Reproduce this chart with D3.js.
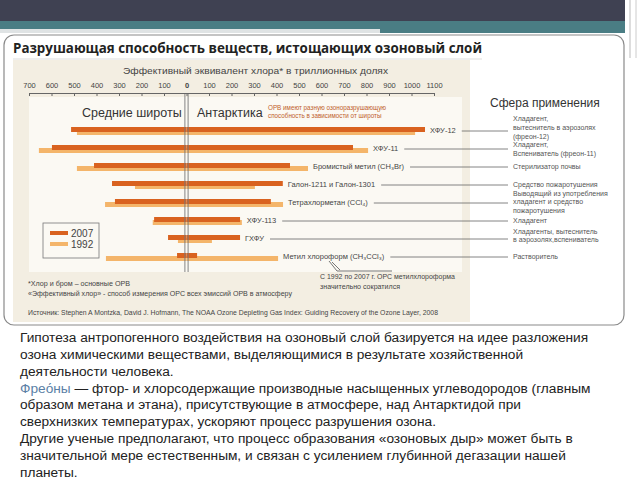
<!DOCTYPE html>
<html>
<head>
<meta charset="utf-8">
<script src="https://cdn.jsdelivr.net/npm/d3@7/dist/d3.min.js"></script>
<style>
  body { margin: 0; background: #fff; }
  svg { display: block; }
</style>
</head>
<body>
<svg id="slide" width="640" height="480"></svg>
<script>
// substances, top to bottom
var substances = ["ХФУ-12", "ХФУ-11", "Бромистый метил (CH₃Br)", "Галон-1211 и Галон-1301",
  "Тетрахлорметан (CCl₄)", "ХФУ-113", "ГХФУ", "Метил хлороформ (CH₃CCl₃)"];
// effective chlorine, trillionths (left = mid latitudes, right = Antarctica)
var mid2007 = [513, 598, 411, 331, 318, 144, 82, 42];
var mid1992 = [487, 656, 487, 229, 362, 150, 38, 358];
var ant2007 = [1060, 740, 460, 428, 375, 238, 238, 47];
var ant1992 = [1016, 807, 540, 304, 429, 246, 113, 407];
var uses = [
  ["Хладагент,", "вытеснитель в аэрозолях", "(фреон-12)"],
  ["Хладагент,", "Вспениватель (фреон-11)"],
  ["Стерилизатор почвы"],
  ["Средство пожаротушения"],
  ["Выводящий из употребления", "хладагент и средство", "пожаротушения"],
  ["Хладагент"],
  ["Хладагенты, вытеснитель", "в аэрозолях,вспениватель"],
  ["Растворитель"]
];
var tickValues = d3.range(-700, 1101, 100);
var years = ["2007", "1992"];
var notes = [
  "*Хлор и бром – основные ОРВ",
  "«Эффективный хлор» - способ измерения ОРС всех эмиссий ОРВ в атмосферу",
  "С 1992 по 2007 г. ОРС метилхлороформа",
  "значительно сократился",
  "Источник: Stephen A Montzka, David J. Hofmann, The NOAA Ozone Depleting Gas Index: Guiding Recovery of the Ozone Layer, 2008"
];
var paragraph = [
  "Гипотеза антропогенного воздействия на озоновый слой базируется на идее разложения",
  "озона химическими веществами, выделяющимися в результате хозяйственной",
  "деятельности человека.",
  "— фтор- и хлорсодержащие производные насыщенных углеводородов (главным",
  "образом метана и этана), присутствующие в атмосфере, над Антарктидой при",
  "сверхнизких температурах, ускоряют процесс разрушения озона.",
  "Другие ученые предполагают, что процесс образования «озоновых дыр» может быть в",
  "значительной мере естественным, и связан с усилением глубинной дегазации нашей",
  "планеты."
];

var dark = "#d9621f", light = "#f4b56a";
var narrow = "'Liberation Sans Narrow', 'Liberation Sans', Arial, sans-serif";
var sans = "'Liberation Sans', Arial, sans-serif";

var svg = d3.select("#slide");

// slide decoration
svg.append("rect").attr("x", 0).attr("y", 0).attr("width", 625).attr("height", 21).attr("fill", "#3f4152");
svg.append("rect").attr("x", 0).attr("y", 21).attr("width", 625).attr("height", 12).attr("fill", "#4a7d84");
svg.append("rect").attr("x", 0).attr("y", 29).attr("width", 380).attr("height", 4).attr("fill", "#dfe3e4");
svg.append("line").attr("x1", 630).attr("x2", 630).attr("y1", 0).attr("y2", 58).attr("stroke", "#bbb");
svg.append("line").attr("x1", 636).attr("x2", 636).attr("y1", 0).attr("y2", 58).attr("stroke", "#ccc");

// rounded panel
svg.append("rect").attr("x", 4).attr("y", 35).attr("width", 620).attr("height", 290).attr("rx", 10)
  .attr("fill", "#fff").attr("stroke", "#8a8a8a").attr("stroke-width", 1.2);

svg.append("text").attr("x", 13).attr("y", 53)
  .style("font-family", "'Open Sans', sans-serif").style("font-weight", "bold").style("font-size", "13.8px")
  .attr("fill", "#222").attr("textLength", 469).attr("lengthAdjust", "spacingAndGlyphs")
  .text("Разрушающая способность веществ, истощающих озоновый слой");
svg.append("line").attr("x1", 13).attr("x2", 482).attr("y1", 59).attr("y2", 59).attr("stroke", "#ddd");

// chart picture backgrounds
svg.append("rect").attr("x", 13).attr("y", 60).attr("width", 457).attr("height", 262).attr("fill", "#f3eee2");
svg.append("rect").attr("x", 29).attr("y", 97).attr("width", 433).attr("height", 175).attr("fill", "#fbf9f3");

var x = d3.scaleLinear().domain([-700, 1100]).range([29, 434]);
var y = d3.scalePoint().domain(substances).range([130, 256]);
var x0 = x(0);

svg.append("text").attr("x", 123).attr("y", 74)
  .style("font-family", narrow).style("font-size", "9.5px").attr("fill", "#444")
  .attr("textLength", 265).attr("lengthAdjust", "spacingAndGlyphs")
  .text("Эффективный эквивалент хлора* в триллионных долях");

var axis = svg.append("g").attr("transform", "translate(0,93)")
  .call(d3.axisTop(x).tickValues(tickValues).tickFormat(function(d) { return Math.abs(d); })
    .tickSizeInner(-3).tickSizeOuter(0).tickPadding(5));
axis.select(".domain").attr("stroke", "#666");
axis.selectAll(".tick line").attr("stroke", "#666");
axis.selectAll(".tick text").style("font-family", narrow).style("font-size", "7.5px").attr("fill", "#444")
  .style("font-weight", function(d) { return d === 0 ? "bold" : "normal"; });

// headers
svg.append("text").attr("x", 82).attr("y", 117).style("font-family", sans).style("font-size", "12.5px")
  .attr("fill", "#333").text("Средние широты");
svg.append("text").attr("x", 197).attr("y", 117).style("font-family", sans).style("font-size", "12.5px")
  .attr("fill", "#333").text("Антарктика");
svg.append("text").attr("x", 268).attr("y", 110).style("font-family", narrow).style("font-size", "6.3px")
  .attr("fill", "#c0602a").text("ОРВ имеют разную озоноразрушающую");
svg.append("text").attr("x", 268).attr("y", 118).style("font-family", narrow).style("font-size", "6.3px")
  .attr("fill", "#c0602a").text("способность в зависимости от широты");
svg.append("text").attr("x", 490).attr("y", 107).style("font-family", sans).style("font-size", "12px")
  .attr("fill", "#333").text("Сфера применения");

// bars: 1992 behind, 2007 in front
var rows = svg.append("g").selectAll("g").data(substances).join("g");
rows.append("rect").attr("x", function(d, i) { return x(-mid1992[i]); }).attr("y", function(d) { return y(d); })
  .attr("width", function(d, i) { return x0 - x(-mid1992[i]); }).attr("height", 5).attr("fill", light);
rows.append("rect").attr("x", x0).attr("y", function(d) { return y(d); })
  .attr("width", function(d, i) { return x(ant1992[i]) - x0; }).attr("height", 5).attr("fill", light);
rows.append("rect").attr("x", function(d, i) { return x(-mid2007[i]); }).attr("y", function(d) { return y(d) - 3; })
  .attr("width", function(d, i) { return x0 - x(-mid2007[i]); }).attr("height", 5).attr("fill", dark);
rows.append("rect").attr("x", x0).attr("y", function(d) { return y(d) - 3; })
  .attr("width", function(d, i) { return x(ant2007[i]) - x0; }).attr("height", 5).attr("fill", dark);

// centre double line
[-1.6, 1.6].forEach(function(o) {
  svg.append("line").attr("x1", x0 + o).attr("x2", x0 + o).attr("y1", 94).attr("y2", 272)
    .attr("stroke", "#777").attr("stroke-width", 0.9);
});

// labels, leader lines and use descriptions
var prevBottom = 0;
rows.each(function(d, i) {
  var g = d3.select(this);
  var end = x(Math.max(ant2007[i], ant1992[i])) + 5;
  var t = g.append("text").attr("x", end).attr("y", y(d) + 3)
    .style("font-family", narrow).style("font-size", "7.5px").attr("fill", "#444").text(d);
  var w = t.node().getComputedTextLength();
  g.append("line").attr("x1", end + w + 6).attr("x2", 508).attr("y1", y(d) + 1).attr("y2", y(d) + 1)
    .attr("stroke", "#666").attr("stroke-width", 0.8);
  var n = uses[i].length, step = 8.6;
  // first line sits a bit above the leader, blocks must not overlap the previous one
  var first = y(d) + 3 - (n - 1) / 2 * step - (n > 1 ? 3 : 0);
  if (first < prevBottom + step) first = prevBottom + step;
  uses[i].forEach(function(u, k) {
    g.append("text").attr("x", 513).attr("y", first + k * step)
      .style("font-family", narrow).style("font-size", "7px").attr("fill", "#555").text(u);
  });
  prevBottom = first + (n - 1) * step;
});

// legend
svg.append("rect").attr("x", 43).attr("y", 223).attr("width", 56).attr("height", 35)
  .attr("fill", "none").attr("stroke", "#777").attr("stroke-width", 0.8);
years.forEach(function(yr, k) {
  svg.append("rect").attr("x", 50).attr("y", 231 + k * 11).attr("width", 18).attr("height", 4)
    .attr("fill", k === 0 ? dark : light);
  svg.append("text").attr("x", 71).attr("y", 237 + k * 11).style("font-family", sans).style("font-size", "10px")
    .attr("fill", "#444").text(yr);
});

// callout for methyl chloroform
svg.append("path").attr("d", "M329,261L337,271L392,271M332,262L340,270")
  .attr("fill", "none").attr("stroke", "#555").attr("stroke-width", 0.8);

// notes: x, baseline, width
var notePos = [[28, 286, 102], [28, 296, 264], [320, 279, 135], [320, 289, 80], [28, 315, 410]];
notes.forEach(function(s, i) {
  svg.append("text").attr("x", notePos[i][0]).attr("y", notePos[i][1])
    .style("font-family", narrow).style("font-size", "6.5px").attr("fill", "#444")
    .attr("textLength", notePos[i][2]).attr("lengthAdjust", "spacingAndGlyphs").text(s);
});

// paragraph under the picture
var para = svg.append("g").style("font-family", sans).style("font-size", "13.7px").attr("fill", "#222");
paragraph.forEach(function(line, i) {
  var t = para.append("text").attr("x", 20).attr("y", 342 + i * 16.85);
  if (i === 3) {
    t.append("tspan").attr("fill", "#5b7fa6").text("Фрео\u0301ны ");
  }
  t.append("tspan").text(line);
});
</script>
</body>
</html>
